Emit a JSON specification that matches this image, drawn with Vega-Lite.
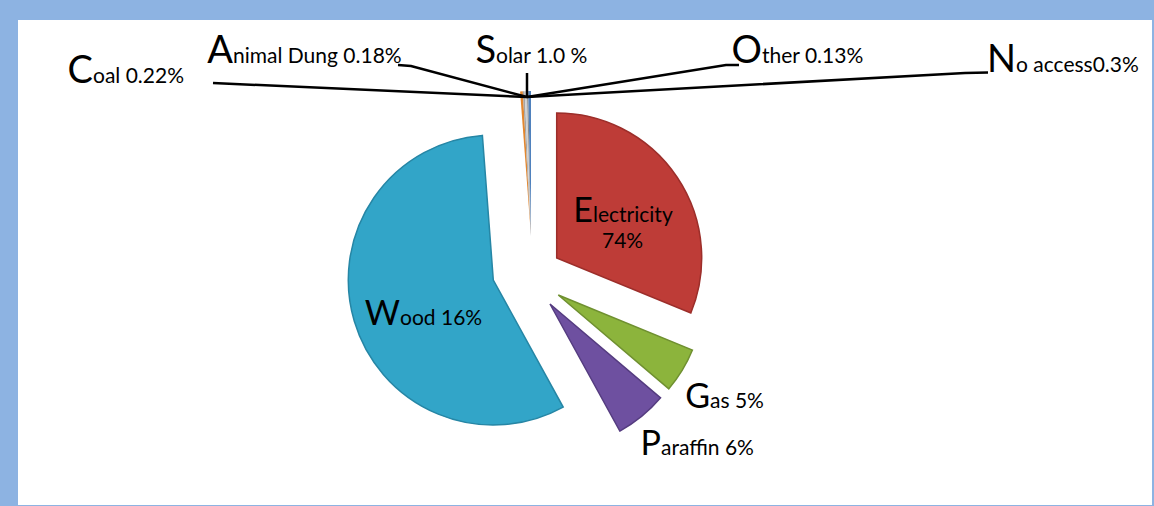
{
  "$schema": "https://vega.github.io/schema/vega-lite/v6.json",
  "width": 1154,
  "height": 506,
  "autosize": {"type": "fit", "contains": "padding"},
  "padding": {"left": 18, "top": 20, "right": 2, "bottom": 1},
  "background": "#8DB3E2",
  "config": {"view": {"fill": "white", "stroke": null}, "text": {"font": "Lato"}},
  "datasets": {
    "slices": [
      {"source": "Electricity", "share": 31.2, "ord": 1},
      {"source": "Gas", "share": 5.0, "ord": 2},
      {"source": "Paraffin", "share": 5.8, "ord": 3},
      {"source": "Wood", "share": 56.8, "ord": 4},
      {"source": "Coal", "share": 0.3, "ord": 5},
      {"source": "Animal Dung", "share": 0.2, "ord": 6},
      {"source": "Solar", "share": 0.25, "ord": 7},
      {"source": "Other", "share": 0.15, "ord": 8},
      {"source": "No access", "share": 0.3, "ord": 9}
    ],
    "labels": [
      {"source": "Coal", "cap": "C", "rest": "oal 0.22%", "lx": -432.8, "ly": 191.8, "placement": "top"},
      {"source": "Animal Dung", "cap": "A", "rest": "nimal Dung 0.18%", "lx": -292.8, "ly": 211.8, "placement": "top"},
      {"source": "Solar", "cap": "S", "rest": "olar 1.0 %", "lx": -29.8, "ly": 211.8, "placement": "top"},
      {"source": "Other", "cap": "O", "rest": "ther 0.13%", "lx": 236.2, "ly": 211.8, "placement": "top"},
      {"source": "No access", "cap": "N", "rest": "o access0.3%", "lx": 490.2, "ly": 202.8, "placement": "top"},
      {"source": "Electricity", "cap": "E", "rest": "lectricity", "lx": 67.2, "ly": 53.1, "placement": "slice"},
      {"source": "Electricity", "cap": "", "rest": "74%", "lx": 76.2, "ly": 26.8, "placement": "slice"},
      {"source": "Wood", "cap": "W", "rest": "ood 16%", "lx": -125.8, "ly": -50.2, "placement": "slice"},
      {"source": "Gas", "cap": "G", "rest": "as 5%", "lx": 184.2, "ly": -133.2, "placement": "slice"},
      {"source": "Paraffin", "cap": "P", "rest": "araffin 6%", "lx": 135.2, "ly": -180.2, "placement": "slice"}
    ],
    "leaders": [
      {"leader": "Coal", "pt": 1, "lx": -312.8, "ly": 191.8},
      {"leader": "Coal", "pt": 2, "lx": 1.2, "ly": 177.8},
      {"leader": "Animal Dung", "pt": 1, "lx": -127.8, "ly": 209.8},
      {"leader": "Animal Dung", "pt": 2, "lx": -114.8, "ly": 208.8},
      {"leader": "Animal Dung", "pt": 3, "lx": 1.2, "ly": 177.8},
      {"leader": "Solar", "pt": 1, "lx": 1.2, "ly": 201.8},
      {"leader": "Solar", "pt": 2, "lx": 1.2, "ly": 177.8},
      {"leader": "Other", "pt": 1, "lx": 213.2, "ly": 209.8},
      {"leader": "Other", "pt": 2, "lx": 200.2, "ly": 209.8},
      {"leader": "Other", "pt": 3, "lx": 1.2, "ly": 177.8},
      {"leader": "No access", "pt": 1, "lx": 462.2, "ly": 202.3},
      {"leader": "No access", "pt": 2, "lx": 439.2, "ly": 201.8},
      {"leader": "No access", "pt": 3, "lx": 1.2, "ly": 177.8}
    ]
  },
  "layer": [
    {
      "data": {"name": "slices"},
      "transform": [
        {"stack": "share", "groupby": [], "sort": [{"field": "ord", "order": "ascending"}], "as": ["t0", "t1"]},
        {"filter": {"field": "source", "equal": "Electricity"}}
      ],
      "mark": {"type": "arc", "radius": 145, "stroke": "#9C2E2A", "strokeWidth": 1.5},
      "encoding": {
        "theta": {"field": "t0", "type": "quantitative", "scale": {"domain": [0, 100]}},
        "theta2": {"field": "t1"},
        "x": {"datum": 30.9, "type": "quantitative", "scale": {"domain": [-507.8, 626.2], "nice": false, "zero": false}, "axis": null},
        "y": {"datum": 16.8, "type": "quantitative", "scale": {"domain": [-230.2, 254.8], "nice": false, "zero": false}, "axis": null},
        "color": {"field": "source", "type": "nominal", "legend": null,
          "scale": {"domain": ["Electricity", "Gas", "Paraffin", "Wood", "Coal", "Animal Dung", "Solar", "Other", "No access"],
                    "range": ["#BE3C37", "#8CB43C", "#6E50A0", "#32A5C8", "#E3872F", "#A5A5A5", "#D0D0D0", "#8C8C8C", "#4F81BD"]}}
      }
    },
    {
      "data": {"name": "slices"},
      "transform": [
        {"stack": "share", "groupby": [], "sort": [{"field": "ord", "order": "ascending"}], "as": ["t0", "t1"]},
        {"filter": {"field": "source", "equal": "Gas"}}
      ],
      "mark": {"type": "arc", "radius": 145, "stroke": "#6F9030", "strokeWidth": 1.5},
      "encoding": {
        "theta": {"field": "t0", "type": "quantitative", "scale": {"domain": [0, 100]}},
        "theta2": {"field": "t1"},
        "x": {"datum": 32.5, "type": "quantitative", "scale": {"domain": [-507.8, 626.2], "nice": false, "zero": false}, "axis": null},
        "y": {"datum": -20.2, "type": "quantitative", "scale": {"domain": [-230.2, 254.8], "nice": false, "zero": false}, "axis": null},
        "color": {"field": "source", "type": "nominal", "legend": null}
      }
    },
    {
      "data": {"name": "slices"},
      "transform": [
        {"stack": "share", "groupby": [], "sort": [{"field": "ord", "order": "ascending"}], "as": ["t0", "t1"]},
        {"filter": {"field": "source", "equal": "Paraffin"}}
      ],
      "mark": {"type": "arc", "radius": 145, "stroke": "#553C80", "strokeWidth": 1.5},
      "encoding": {
        "theta": {"field": "t0", "type": "quantitative", "scale": {"domain": [0, 100]}},
        "theta2": {"field": "t1"},
        "x": {"datum": 24.2, "type": "quantitative", "scale": {"domain": [-507.8, 626.2], "nice": false, "zero": false}, "axis": null},
        "y": {"datum": -29.2, "type": "quantitative", "scale": {"domain": [-230.2, 254.8], "nice": false, "zero": false}, "axis": null},
        "color": {"field": "source", "type": "nominal", "legend": null}
      }
    },
    {
      "data": {"name": "slices"},
      "transform": [
        {"stack": "share", "groupby": [], "sort": [{"field": "ord", "order": "ascending"}], "as": ["t0", "t1"]},
        {"filter": {"field": "source", "equal": "Wood"}}
      ],
      "mark": {"type": "arc", "radius": 145, "stroke": "#2686A5", "strokeWidth": 1.5},
      "encoding": {
        "theta": {"field": "t0", "type": "quantitative", "scale": {"domain": [0, 100]}},
        "theta2": {"field": "t1"},
        "x": {"datum": -32.5, "type": "quantitative", "scale": {"domain": [-507.8, 626.2], "nice": false, "zero": false}, "axis": null},
        "y": {"datum": -5.2, "type": "quantitative", "scale": {"domain": [-230.2, 254.8], "nice": false, "zero": false}, "axis": null},
        "color": {"field": "source", "type": "nominal", "legend": null}
      }
    },
    {
      "data": {"name": "slices"},
      "transform": [
        {"stack": "share", "groupby": [], "sort": [{"field": "ord", "order": "ascending"}], "as": ["t0", "t1"]},
        {"filter": {"field": "source", "oneOf": ["Coal", "Animal Dung", "Solar", "Other", "No access"]}}
      ],
      "mark": {"type": "arc", "radius": 145},
      "encoding": {
        "theta": {"field": "t0", "type": "quantitative", "scale": {"domain": [0, 100]}},
        "theta2": {"field": "t1"},
        "x": {"datum": 5.2, "type": "quantitative", "scale": {"domain": [-507.8, 626.2], "nice": false, "zero": false}, "axis": null},
        "y": {"datum": 38.8, "type": "quantitative", "scale": {"domain": [-230.2, 254.8], "nice": false, "zero": false}, "axis": null},
        "color": {"field": "source", "type": "nominal", "legend": null}
      }
    },
    {
      "data": {"name": "leaders"},
      "mark": {"type": "line", "color": "black", "strokeWidth": 2.5},
      "encoding": {
        "x": {"field": "lx", "type": "quantitative", "scale": {"domain": [-507.8, 626.2], "nice": false, "zero": false}, "axis": null},
        "y": {"field": "ly", "type": "quantitative", "scale": {"domain": [-230.2, 254.8], "nice": false, "zero": false}, "axis": null},
        "detail": {"field": "leader"},
        "order": {"field": "pt"}
      }
    },
    {
      "data": {"name": "labels"},
      "transform": [{"filter": {"field": "placement", "equal": "top"}}],
      "mark": {"type": "text", "align": "right", "baseline": "alphabetic", "fontSize": 38, "color": "black"},
      "encoding": {
        "x": {"field": "lx", "type": "quantitative", "scale": {"domain": [-507.8, 626.2], "nice": false, "zero": false}, "axis": null},
        "y": {"field": "ly", "type": "quantitative", "scale": {"domain": [-230.2, 254.8], "nice": false, "zero": false}, "axis": null},
        "text": {"field": "cap"}
      }
    },
    {
      "data": {"name": "labels"},
      "transform": [{"filter": {"field": "placement", "equal": "slice"}}],
      "mark": {"type": "text", "align": "right", "baseline": "alphabetic", "fontSize": 34, "color": "black"},
      "encoding": {
        "x": {"field": "lx", "type": "quantitative", "scale": {"domain": [-507.8, 626.2], "nice": false, "zero": false}, "axis": null},
        "y": {"field": "ly", "type": "quantitative", "scale": {"domain": [-230.2, 254.8], "nice": false, "zero": false}, "axis": null},
        "text": {"field": "cap"}
      }
    },
    {
      "data": {"name": "labels"},
      "mark": {"type": "text", "align": "left", "baseline": "alphabetic", "fontSize": 21, "color": "black"},
      "encoding": {
        "x": {"field": "lx", "type": "quantitative", "scale": {"domain": [-507.8, 626.2], "nice": false, "zero": false}, "axis": null},
        "y": {"field": "ly", "type": "quantitative", "scale": {"domain": [-230.2, 254.8], "nice": false, "zero": false}, "axis": null},
        "text": {"field": "rest"}
      }
    }
  ]
}
